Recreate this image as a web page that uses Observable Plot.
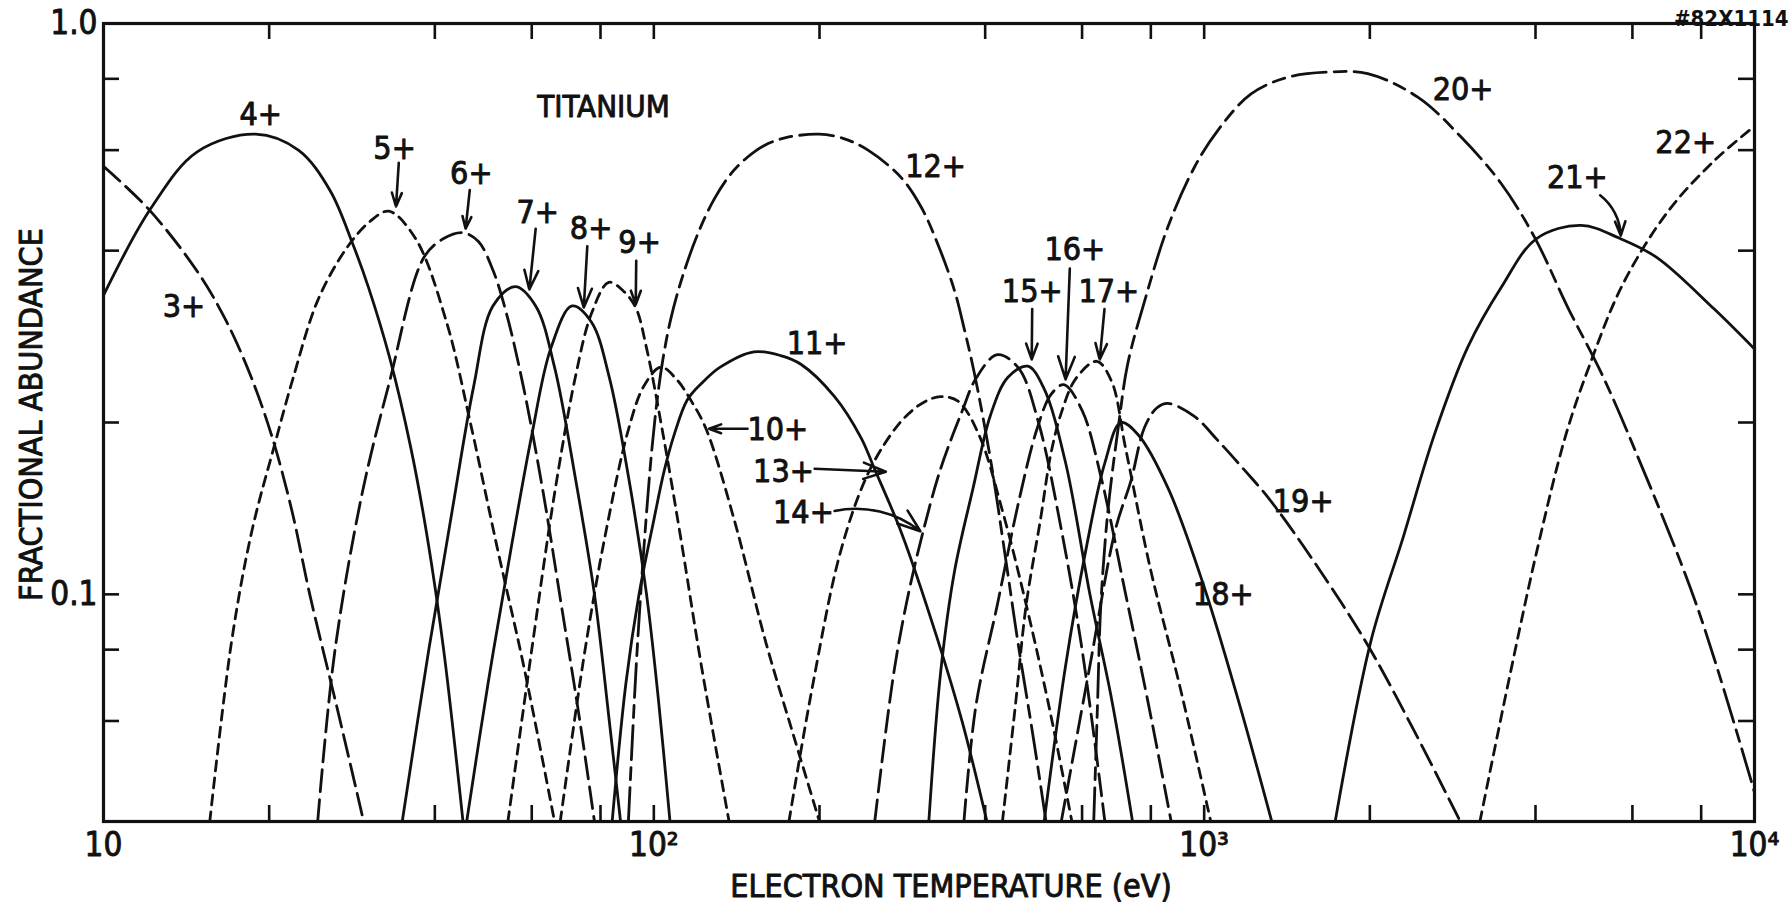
<!DOCTYPE html>
<html><head><meta charset="utf-8">
<script src="https://cdn.jsdelivr.net/npm/d3@7"></script>
<script src="https://cdn.jsdelivr.net/npm/@observablehq/plot@0.6"></script>
<style>
html,body{margin:0;padding:0;background:#fff;}
#chart svg{display:block;}
</style></head><body><div id="chart"></div>
<script>
// ---- data: electron temperature (eV) and fractional abundance for each ion ----
const t03 = [10, 12.1, 14.8, 16.6, 18.4, 20.2, 22, 23.7, 26.6, 29.7];
const f03 = [0.562, 0.472, 0.368, 0.305, 0.245, 0.19, 0.14, 0.10, 0.063, 0.04];
const t04 = [10, 12.2, 14.8, 18.9, 22.6, 25.8, 28.4, 30.3, 33.1, 36.2, 38.8, 41.5, 45];
const f04 = [0.334, 0.475, 0.596, 0.64, 0.60, 0.51, 0.41, 0.345, 0.26, 0.18, 0.125, 0.08, 0.04];
const t05 = [15.6, 17.1, 18.6, 20.5, 22.1, 24.5, 27.6, 30.5, 33, 36.9, 42, 46.4, 52, 58, 66];
const f05 = [0.04, 0.083, 0.129, 0.184, 0.239, 0.327, 0.403, 0.45, 0.469, 0.42, 0.3, 0.2, 0.12, 0.075, 0.04];
const t06 = [24.5, 26.3, 29.5, 33.1, 38.2, 41.5, 45, 48, 51, 54, 58, 63, 68, 73, 78];
const f06 = [0.04, 0.079, 0.15, 0.236, 0.389, 0.42, 0.43, 0.415, 0.37, 0.31, 0.23, 0.15, 0.095, 0.062, 0.04];
const t07 = [34.9, 39, 43, 47, 51, 56, 61, 66, 72, 78, 83, 87];
const f07 = [0.04, 0.08, 0.14, 0.23, 0.32, 0.346, 0.32, 0.25, 0.16, 0.1, 0.06, 0.04];
const t08 = [45.7, 50, 55, 60, 65, 71, 77, 83, 90, 97, 102, 107];
const f08 = [0.04, 0.07, 0.12, 0.19, 0.27, 0.32, 0.3, 0.24, 0.16, 0.1, 0.065, 0.04];
const t09 = [54.3, 60, 66, 72, 77, 82.8, 88, 92.7, 97, 104, 112, 122, 137];
const f09 = [0.04, 0.08, 0.15, 0.24, 0.31, 0.352, 0.34, 0.318, 0.27, 0.19, 0.125, 0.075, 0.04];
const t10 = [67.6, 75, 82, 90, 96, 103, 110, 117, 124.4, 140, 160, 180, 200];
const f10 = [0.04, 0.08, 0.13, 0.195, 0.232, 0.25, 0.238, 0.218, 0.195, 0.135, 0.082, 0.056, 0.04];
const t11 = [84, 89, 94, 100, 104.5, 109, 115, 122, 132, 152, 170, 185, 213, 238, 251, 282, 327, 363, 403];
const f11 = [0.04, 0.07, 0.1, 0.135, 0.165, 0.191, 0.219, 0.234, 0.25, 0.266, 0.262, 0.253, 0.222, 0.188, 0.167, 0.128, 0.084, 0.06, 0.04];
const t12 = [89.9, 92.9, 95.9, 99.1, 101.4, 103.8, 107.2, 112.2, 120.2, 128.8, 138, 147.9, 158.5, 173.8, 199.5, 220, 245, 281, 306, 328, 352, 367, 382, 410, 436, 460, 488, 516];
const f12 = [0.04, 0.075, 0.12, 0.178, 0.219, 0.257, 0.302, 0.355, 0.428, 0.493, 0.545, 0.583, 0.611, 0.631, 0.64, 0.63, 0.6, 0.538, 0.477, 0.411, 0.34, 0.29, 0.245, 0.17, 0.115, 0.081, 0.057, 0.04];
const t13 = [176, 194, 218, 243, 269, 290, 312, 332, 357, 390, 430, 470, 520, 575];
const f13 = [0.04, 0.0686, 0.118, 0.16, 0.19, 0.207, 0.218, 0.222, 0.218, 0.19, 0.14, 0.1, 0.065, 0.04];
const t14 = [252, 273, 290, 308, 332, 363, 385, 421, 460, 500, 550, 600, 660];
const f14 = [0.04, 0.073, 0.1, 0.128, 0.166, 0.209, 0.239, 0.263, 0.249, 0.2, 0.13, 0.08, 0.04];
const t15 = [316, 332, 352, 380, 409, 440, 478, 511, 560, 620, 680, 741];
const f15 = [0.04, 0.073, 0.11, 0.153, 0.206, 0.24, 0.251, 0.23, 0.17, 0.1, 0.065, 0.04];
const t16 = [366, 385, 421, 460, 497, 527, 556, 600, 650, 720, 790, 871];
const f16 = [0.04, 0.064, 0.096, 0.145, 0.195, 0.224, 0.233, 0.21, 0.16, 0.1, 0.065, 0.04];
const t17 = [430, 454, 475, 504, 527, 551, 585, 638, 679, 720, 800, 900, 1028];
const f17 = [0.04, 0.064, 0.096, 0.135, 0.177, 0.209, 0.239, 0.256, 0.236, 0.18, 0.11, 0.07, 0.04];
const t18 = [512, 560, 610, 660, 706, 760, 861, 1000, 1160, 1327];
const f18 = [0.04, 0.075, 0.12, 0.17, 0.2, 0.19, 0.153, 0.103, 0.064, 0.04];
const t19 = [550, 620, 690, 736, 779, 820, 859, 960, 1059, 1184, 1305, 1510, 1960, 2400, 2920];
const f19 = [0.04, 0.075, 0.13, 0.158, 0.196, 0.212, 0.216, 0.205, 0.186, 0.165, 0.148, 0.122, 0.083, 0.058, 0.04];
const t20 = [630, 640, 649, 669, 700, 726, 782, 859, 960, 1059, 1217, 1419, 1679, 1982, 2444, 2933, 3467, 3985, 4580, 5270, 6050, 7870, 10000];
const f20 = [0.04, 0.064, 0.096, 0.141, 0.2, 0.253, 0.33, 0.44, 0.56, 0.65, 0.753, 0.805, 0.822, 0.817, 0.743, 0.632, 0.524, 0.422, 0.318, 0.244, 0.18, 0.095, 0.045];
const t21 = [1730, 2010, 2300, 2623, 3013, 3467, 4018, 4840, 5700, 6650, 8450, 10000];
const f21 = [0.04, 0.083, 0.126, 0.191, 0.271, 0.345, 0.42, 0.443, 0.42, 0.389, 0.316, 0.269];
const t22 = [3170, 3570, 4030, 4540, 5000, 5770, 6980, 8450, 10000];
const f22 = [0.04, 0.07, 0.12, 0.19, 0.25, 0.35, 0.47, 0.575, 0.661];

const ionNames = ["3+","4+","5+","6+","7+","8+","9+","10+","11+","12+","13+","14+","15+","16+","17+","18+","19+","20+","21+","22+"];
const ionTemps = [t03,t04,t05,t06,t07,t08,t09,t10,t11,t12,t13,t14,t15,t16,t17,t18,t19,t20,t21,t22];
const ionFracs = [f03,f04,f05,f06,f07,f08,f09,f10,f11,f12,f13,f14,f15,f16,f17,f18,f19,f20,f21,f22];
const ionDash  = ["long","solid","short","long","solid","solid","short","short","solid","dashdot","short","long","solid","long","short","solid","long","dashdot","solid","short"];

// ion labels (text, T, f)
const labelText = ["3+","4+","5+","6+","7+","8+","9+","10+","11+","12+","13+","14+","15+","16+","17+","18+","19+","20+","21+","22+"];
const labelT    = [14.0, 19.3, 33.8, 46.6, 61.5, 76.9, 94.2, 168, 198, 325, 172, 187, 487, 582, 671, 1083, 1513, 2954, 4764, 7499];
const labelF    = [0.319, 0.692, 0.603, 0.545, 0.466, 0.437, 0.413, 0.194, 0.275, 0.562, 0.164, 0.139, 0.339, 0.402, 0.339, 0.10, 0.145, 0.766, 0.537, 0.617];

// pointer arrows (from label to curve): T1,f1 -> T2,f2
const arrowName = ["5+","6+","7+","8+","9+","10+","13+","15+","16+","17+"];
const arrowT1 = [34.4, 46.3, 61, 75.7, 92.9, 148, 196, 487, 570, 659];
const arrowF1 = [0.57, 0.511, 0.437, 0.407, 0.384, 0.195, 0.166, 0.316, 0.372, 0.316];
const arrowT2 = [34.0, 45.5, 59.4, 74.6, 92.7, 126, 264, 486, 560, 646];
const arrowF2 = [0.478, 0.437, 0.342, 0.318, 0.322, 0.195, 0.164, 0.258, 0.238, 0.258];
const bentName = ["14+","21+"];
const bentT1 = [213, 5242];
const bentF1 = [0.14, 0.50];
const bentT2 = [305, 5715];
const bentF2 = [0.129, 0.425];

const xTickLabelValues = [10, 100, 1000, 10000];
const xTickLabelText = ["10", "10\u00B2", "10\u00B3", "10\u2074"];
const xMinorTicks = [20, 40, 60, 80, 100, 200, 400, 600, 800, 1000, 2000, 4000, 6000, 8000];
const yTickLabelValues = [1, 0.1];
const yTickLabelText = ["1.0", "0.1"];
const yMinorTicks = [0.8, 0.6, 0.4, 0.2, 0.1, 0.08, 0.06];

// ---- build ----
const W = 1792, H = 915;
const mL = 103, mR = 38, mT = 23, mB = 94;
const frameW = W - mL - mR, frameH = H - mT - mB;
const FONT = "'Liberation Sans Narrow','DejaVu Sans Condensed','Roboto Condensed','DejaVu Sans',sans-serif";
const dashes = {solid: null, short: "10,7", long: "22,8", dashdot: "34,8,12,8"};
const INK = "#111";
const txt = {fill: INK, stroke: INK, strokeWidth: 0.9};

const lineMarks = ionNames.map((name, i) => {
  const rows = ionTemps[i].map((t, j) => ({ion: name, T: t, f: ionFracs[i][j]}));
  return Plot.line(rows, {x: "T", y: "f", curve: "catmull-rom", stroke: INK, strokeWidth: 2.8,
    strokeDasharray: dashes[ionDash[i]], clip: true});
});

const labels = labelText.map((s, i) => ({s, T: labelT[i], f: labelF[i]}));
const arrows = arrowName.map((s, i) => ({s, x1: arrowT1[i], y1: arrowF1[i], x2: arrowT2[i], y2: arrowF2[i]}));
const bents = bentName.map((s, i) => ({s, x1: bentT1[i], y1: bentF1[i], x2: bentT2[i], y2: bentF2[i]}));

const chart = Plot.plot({
  width: W, height: H,
  marginLeft: mL, marginRight: mR, marginTop: mT, marginBottom: mB,
  style: {fontFamily: FONT, background: "#fff", color: INK, overflow: "visible"},
  x: {type: "log", domain: [10, 10000], axis: null},
  y: {type: "log", domain: [0.04, 1], axis: null},
  marks: [
    ...lineMarks,
    Plot.frame({stroke: INK, strokeWidth: 3.2}),
    // inward ticks, bottom and top
    Plot.tickX(xMinorTicks, {x: d => d, stroke: INK, strokeWidth: 2.6, insetTop: frameH - 16}),
    Plot.tickX(xMinorTicks, {x: d => d, stroke: INK, strokeWidth: 2.6, insetBottom: frameH - 16}),
    // inward ticks, left and right
    Plot.tickY(yMinorTicks, {y: d => d, stroke: INK, strokeWidth: 2.6, insetRight: frameW - 16}),
    Plot.tickY(yMinorTicks, {y: d => d, stroke: INK, strokeWidth: 2.6, insetLeft: frameW - 16}),
    // tick labels
    Plot.text(xTickLabelValues, {x: d => d, text: (d, i) => xTickLabelText[i], frameAnchor: "bottom", dy: 34, fontSize: 33, ...txt}),
    Plot.text(yTickLabelValues, {y: d => d, text: (d, i) => yTickLabelText[i], frameAnchor: "left", textAnchor: "end", dx: -6, fontSize: 33, ...txt}),
    // axis titles
    Plot.text(["ELECTRON TEMPERATURE (eV)"], {frameAnchor: "bottom", dy: 75, dx: 22, fontSize: 32, letterSpacing: "4px", ...txt}),
    Plot.text(["FRACTIONAL ABUNDANCE"], {frameAnchor: "left", textAnchor: "middle", rotate: -90, dx: -72, dy: -8, fontSize: 32, letterSpacing: "2.5px", ...txt}),
    // element name and figure id
    Plot.text(["TITANIUM"], {x: () => 81, y: () => 0.714, fontSize: 31, letterSpacing: "1.5px", ...txt}),
    Plot.text(["#82X1114"], {frameAnchor: "top-right", textAnchor: "end", dx: 34, dy: -13, fontSize: 22, fontWeight: "bold", fill: INK}),
    // ion labels
    Plot.text(labels, {x: "T", y: "f", text: "s", fontSize: 32, ...txt}),
    Plot.arrow(arrows, {x1: "x1", y1: "y1", x2: "x2", y2: "y2", stroke: INK, strokeWidth: 2.6, headLength: 14, headAngle: 40}),
    Plot.arrow(bents, {x1: "x1", y1: "y1", x2: "x2", y2: "y2", bend: 25, stroke: INK, strokeWidth: 2.6, headLength: 14, headAngle: 40})
  ]
});
document.getElementById("chart").appendChild(chart);
</script>
</body></html>
